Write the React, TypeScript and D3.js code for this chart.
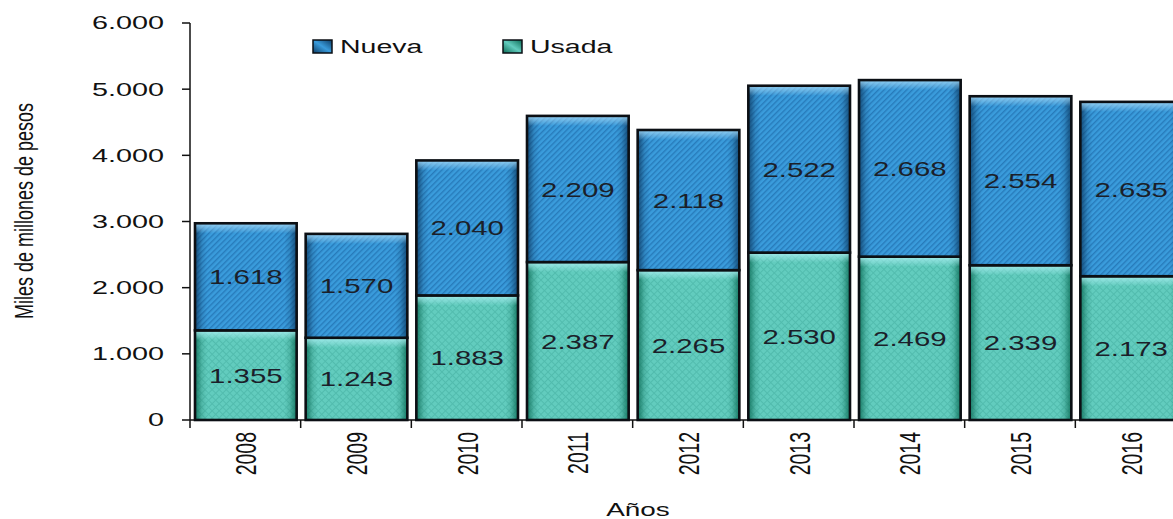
import React from "react";
import * as d3 from "d3";

const years = ["2008", "2009", "2010", "2011", "2012", "2013", "2014", "2015", "2016"];
const usada = [1355, 1243, 1883, 2387, 2265, 2530, 2469, 2339, 2173];
const nueva = [1618, 1570, 2040, 2209, 2118, 2522, 2668, 2554, 2635];
const yTicks = [0, 1000, 2000, 3000, 4000, 5000, 6000];
const seriesNames = ["Nueva", "Usada"];

const W = 1173;
const H = 519;
const FONT = "'Liberation Sans', Arial, Helvetica, sans-serif";

const fmt = (v: number) => d3.format(",")(v).replace(/,/g, ".");

export default function App() {
  const x = d3.scaleBand<string>().domain(years).range([190, 1186]).padding(0);
  const y = d3.scaleLinear().domain([0, 6000]).range([420, 23]);
  const bw = x.bandwidth();
  const barOff = 5;
  const barW = bw - 9;

  const rows = years.map((yr, i) => ({ yr, u: usada[i], n: nueva[i] }));
  const stack = d3.stack<any>().keys(["u", "n"])(rows as any);

  const seg = (key: "u" | "n", yr: string, y0: number, y1: number, i: number) => {
    const bx = (x(yr) as number) + barOff;
    const top = y(y1);
    const bot = y(y0);
    const h = bot - top;
    const fillId = key === "n" ? "patN" : "patU";
    const edgeId = key === "n" ? "edgeN" : "edgeU";
    const topId = key === "n" ? "topN" : "topU";
    const val = key === "n" ? nueva[i] : usada[i];
    const cx = bx + barW / 2;
    const cy = (top + bot) / 2;
    return (
      <g key={key + yr}>
        <rect x={bx} y={top} width={barW} height={h} fill={`url(#${fillId})`} />
        <rect x={bx} y={top} width={barW} height={h} fill={`url(#${edgeId})`} />
        <rect x={bx} y={top} width={barW} height={Math.min(10, h)} fill={`url(#${topId})`} />
        <rect x={bx} y={top} width={barW} height={h} fill="none" stroke="#0b0f14" strokeWidth={2.6} />
        <text
          transform={`translate(${cx},${cy}) scale(1.4,1)`}
          textAnchor="middle"
          dy="0.36em"
          fontSize={21}
          fontFamily={FONT}
          fill="#1b1f2a"
        >
          {fmt(val)}
        </text>
      </g>
    );
  };

  return (
    <svg width={W} height={H} style={{ position: "absolute", left: 0, top: 0, background: "#fff" }}>
      <defs>
        <pattern id="patN" patternUnits="userSpaceOnUse" width="4" height="4" patternTransform="rotate(45)">
          <rect width="4" height="4" fill="#3a9cdc" />
          <rect width="1.4" height="4" fill="#277bbb" />
        </pattern>
        <pattern id="patU" patternUnits="userSpaceOnUse" width="5" height="5" patternTransform="rotate(45)">
          <rect width="5" height="5" fill="#62ccbe" />
          <rect width="1" height="5" fill="#52bcae" />
          <rect width="5" height="1" fill="#52bcae" />
        </pattern>
        <linearGradient id="edgeN" x1="0" x2="1" y1="0" y2="0">
          <stop offset="0" stopColor="#0d3d66" stopOpacity="0.85" />
          <stop offset="0.07" stopColor="#0d3d66" stopOpacity="0.2" />
          <stop offset="0.12" stopColor="#0d3d66" stopOpacity="0" />
          <stop offset="0.88" stopColor="#0d3d66" stopOpacity="0" />
          <stop offset="0.93" stopColor="#0d3d66" stopOpacity="0.2" />
          <stop offset="1" stopColor="#0d3d66" stopOpacity="0.85" />
        </linearGradient>
        <linearGradient id="edgeU" x1="0" x2="1" y1="0" y2="0">
          <stop offset="0" stopColor="#0b6b55" stopOpacity="0.85" />
          <stop offset="0.07" stopColor="#0b6b55" stopOpacity="0.2" />
          <stop offset="0.12" stopColor="#0b6b55" stopOpacity="0" />
          <stop offset="0.88" stopColor="#0b6b55" stopOpacity="0" />
          <stop offset="0.93" stopColor="#0b6b55" stopOpacity="0.2" />
          <stop offset="1" stopColor="#0b6b55" stopOpacity="0.85" />
        </linearGradient>
        <linearGradient id="topN" x1="0" x2="0" y1="0" y2="1">
          <stop offset="0" stopColor="#9fd6f5" stopOpacity="0.9" />
          <stop offset="1" stopColor="#9fd6f5" stopOpacity="0" />
        </linearGradient>
        <linearGradient id="topU" x1="0" x2="0" y1="0" y2="1">
          <stop offset="0" stopColor="#a8eef0" stopOpacity="0.9" />
          <stop offset="1" stopColor="#a8eef0" stopOpacity="0" />
        </linearGradient>
        <linearGradient id="legN" x1="0" x2="1" y1="1" y2="0">
          <stop offset="0" stopColor="#0d3d66" />
          <stop offset="0.5" stopColor="#3a9cdc" />
          <stop offset="1" stopColor="#0d3d66" />
        </linearGradient>
        <linearGradient id="legU" x1="0" x2="1" y1="1" y2="0">
          <stop offset="0" stopColor="#0b6b55" />
          <stop offset="0.5" stopColor="#62ccbe" />
          <stop offset="1" stopColor="#0b6b55" />
        </linearGradient>
      </defs>

      {/* y axis */}
      <line x1={190} x2={190} y1={y(6000)} y2={y(0)} stroke="#111" strokeWidth={1.5} />
      {yTicks.map((t) => (
        <g key={t}>
          <line x1={182} x2={190} y1={y(t)} y2={y(t)} stroke="#111" strokeWidth={1.5} />
          <text
            transform={`translate(164,${y(t)}) scale(1.6,1)`}
            textAnchor="end"
            dy="0.36em"
            fontSize={18}
            fontFamily={FONT}
            fill="#111"
          >
            {fmt(t)}
          </text>
        </g>
      ))}

      {/* x axis */}
      <line x1={190} x2={1186} y1={y(0)} y2={y(0)} stroke="#111" strokeWidth={1.5} />
      {years.map((yr) => (
        <line key={"t" + yr} x1={x(yr) as number} x2={x(yr) as number} y1={y(0)} y2={y(0) + 8} stroke="#111" strokeWidth={1.5} />
      ))}

      {/* bars */}
      {stack.map((layer) =>
        layer.map((d, i) => seg(layer.key as "u" | "n", years[i], d[0], d[1], i))
      )}

      {/* year labels */}
      {years.map((yr) => (
        <text
          key={"l" + yr}
          transform={`translate(${(x(yr) as number) + bw / 2},432) scale(1.55,1) rotate(-90)`}
          textAnchor="end"
          dy="0.36em"
          fontSize={19.5}
          fontFamily={FONT}
          fill="#111"
        >
          {yr}
        </text>
      ))}

      {/* axis titles */}
      <text
        transform={`translate(638,516) scale(1.55,1)`}
        textAnchor="middle"
        fontSize={18}
        fontFamily={FONT}
        fill="#111"
      >
        Años
      </text>
      <text
        transform={`translate(24,211) scale(1.45,1) rotate(-90)`}
        textAnchor="middle"
        dy="0.36em"
        fontSize={18}
        fontFamily={FONT}
        fill="#111"
      >
        Miles de millones de pesos
      </text>

      {/* legend */}
      {seriesNames.map((name, i) => {
        const lx = i === 0 ? 313 : 503;
        const fid = i === 0 ? "N" : "U";
        return (
          <g key={name}>
            <rect x={lx} y={40} width={19} height={13} fill={`url(#leg${fid})`} />
            <rect x={lx} y={40} width={19} height={13} fill="none" stroke="#0b0f14" strokeWidth={1.5} />
            <text
              transform={`translate(${lx + 27},${46.5}) scale(1.5,1)`}
              dy="0.36em"
              fontSize={19}
              fontFamily={FONT}
              fill="#111"
            >
              {name}
            </text>
          </g>
        );
      })}
    </svg>
  );
}
